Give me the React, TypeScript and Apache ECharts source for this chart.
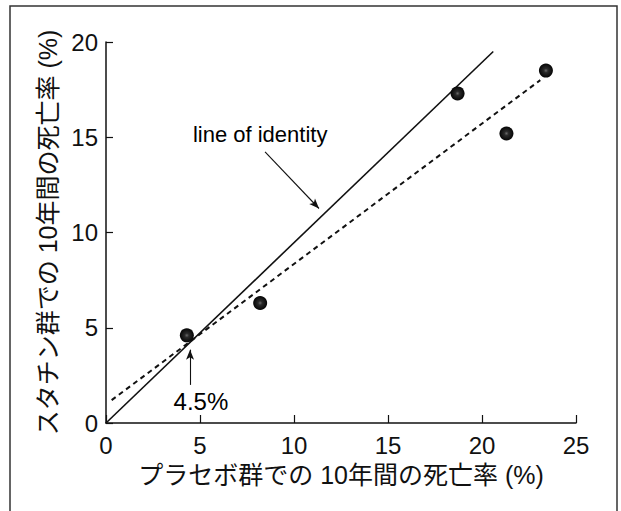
import React, { useEffect, useRef } from "react";
import * as echarts from "echarts";

// Data
const placeboRate = [4.3, 8.2, 18.7, 21.3, 23.4];
const statinRate = [4.6, 6.3, 17.3, 15.2, 18.5];

const identityX = [0, 20.6];
const identityY = [0, 19.5];

const regressionX = [0.3, 23.1];
const regressionY = [1.2, 18.0];

const xTicks = [0, 5, 10, 15, 20, 25];
const yTicks = [0, 5, 10, 15, 20];

const annotationText = ["line of identity", "4.5%"];
const annotationX = [8.2, 5.05];
const annotationY = [15.15, 1.15];
const annotationSize = [22, 24];

const arrowFromX = [8.46, 4.47];
const arrowFromY = [14.23, 2.0];
const arrowToX = [11.33, 4.47];
const arrowToY = [11.26, 3.85];

const xName = "プラセボ群での 10年間の死亡率 (%)";
const yName = "スタチン群での 10年間の死亡率 (%)";

const FONT = "'Liberation Sans', 'Noto Sans CJK JP', sans-serif";
const INK = "#111";

export default function App() {
  const ref = useRef<HTMLDivElement>(null);
  useEffect(() => {
    if (!ref.current) return;
    const chart = echarts.init(ref.current, undefined, { renderer: "svg" });
    const points = placeboRate.map((x, i) => [x, statinRate[i]]);
    const identity = identityX.map((x, i) => [x, identityY[i]]);
    const regression = regressionX.map((x, i) => [x, regressionY[i]]);
    const annotations = annotationText.map((t, i) => ({
      value: [annotationX[i], annotationY[i]],
      name: t,
      label: { fontSize: annotationSize[i] },
    }));
    const arrows = arrowFromX.map((x, i) => [
      { coord: [x, arrowFromY[i]] },
      { coord: [arrowToX[i], arrowToY[i]] },
    ]);
    chart.setOption({
      animation: false,
      backgroundColor: "#fff",
      graphic: [
        {
          type: "rect",
          shape: { x: 10, y: 6, width: 607, height: 520 },
          style: { fill: "none", stroke: "#333", lineWidth: 1.5 },
          silent: true,
        },
      ],
      grid: { left: 106, right: 45, top: 42, bottom: 88, containLabel: false },
      xAxis: {
        type: "value",
        min: xTicks[0],
        max: xTicks[xTicks.length - 1],
        interval: 5,
        name: xName,
        nameLocation: "middle",
        nameGap: 39,
        nameTextStyle: { fontSize: 25, color: INK, fontFamily: FONT },
        axisLine: { show: true, lineStyle: { color: INK, width: 1.5 } },
        axisTick: { show: true, inside: true, length: 8, lineStyle: { color: INK, width: 1.2 } },
        axisLabel: { fontSize: 24, color: INK, fontFamily: FONT, margin: 10 },
        splitLine: { show: false },
      },
      yAxis: {
        type: "value",
        min: yTicks[0],
        max: yTicks[yTicks.length - 1],
        interval: 5,
        name: yName,
        nameLocation: "middle",
        nameGap: 40,
        nameTextStyle: { fontSize: 25, color: INK, fontFamily: FONT },
        axisLine: { show: true, lineStyle: { color: INK, width: 1.5 } },
        axisTick: { show: true, inside: true, length: 7, lineStyle: { color: INK, width: 1.2 } },
        axisLabel: { fontSize: 24, color: INK, fontFamily: FONT, margin: 8 },
        splitLine: { show: false },
      },
      series: [
        {
          type: "line",
          data: identity,
          symbol: "none",
          lineStyle: { color: INK, width: 1.6 },
          silent: true,
          z: 2,
        },
        {
          type: "line",
          data: regression,
          symbol: "none",
          lineStyle: { color: INK, width: 2, type: [5, 4] },
          silent: true,
          z: 2,
        },
        {
          type: "scatter",
          data: points,
          symbolSize: 14,
          itemStyle: {
            opacity: 1,
            color: new echarts.graphic.RadialGradient(0.5, 0.5, 0.5, [
              { offset: 0, color: "#6a6a6a" },
              { offset: 0.3, color: "#2a2a2a" },
              { offset: 1, color: "#050505" },
            ]),
          },
          silent: true,
          z: 3,
        },
        {
          type: "scatter",
          data: annotations,
          symbolSize: 0,
          silent: true,
          itemStyle: { color: INK, opacity: 1 },
          label: {
            show: true,
            position: "inside",
            formatter: (p: any) => p.name,
            color: "#000",
            textBorderWidth: 0,
            textBorderColor: "transparent",
            fontFamily: FONT,
            fontSize: 22,
          },
          markLine: {
            silent: true,
            symbol: ["none", "arrow"],
            symbolSize: [6, 10],
            label: { show: false },
            lineStyle: { color: INK, width: 1.1, type: "solid", opacity: 1 },
            data: arrows,
          },
          z: 4,
        },
      ],
    });
    return () => chart.dispose();
  }, []);
  return (
    <div
      ref={ref}
      style={{ position: "fixed", left: 0, top: 0, width: 621, height: 511 }}
    />
  );
}
